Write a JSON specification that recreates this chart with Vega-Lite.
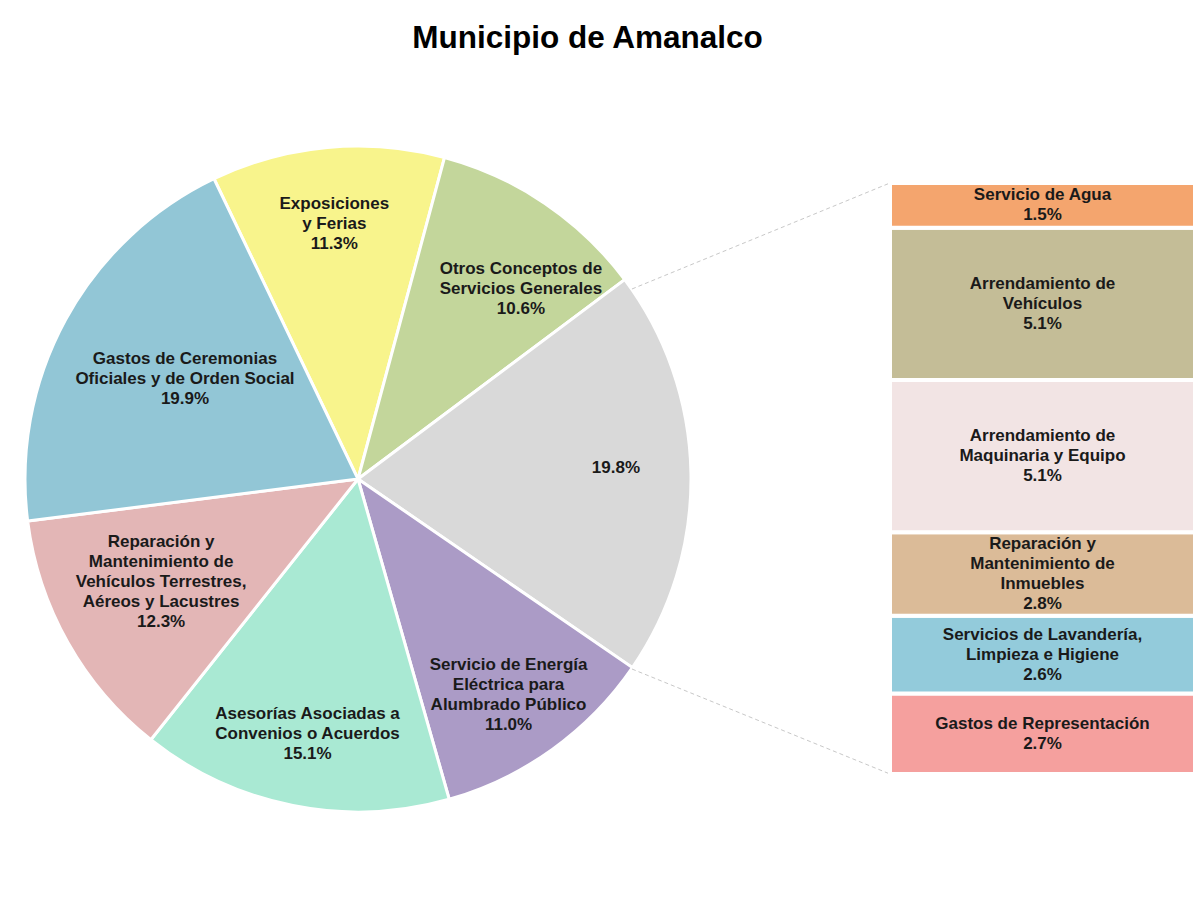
{
  "$schema": "https://vega.github.io/schema/vega-lite/v6.json",
  "background": "white",
  "padding": {"left": 0, "top": 22, "right": 5, "bottom": 5},
  "title": {"text": "Municipio de Amanalco", "fontSize": 31.5, "font": "Liberation Sans", "fontWeight": "bold", "color": "#000000", "offset": 17, "anchor": "middle", "dx": -11},
  "bounds": "flush",
  "spacing": 174,
  "config": {"view": {"stroke": null}, "text": {"fontSize": 17, "fontWeight": "bold", "font": "Liberation Sans", "lineBreak": "\n", "lineHeight": 20, "color": "#1a1a1a", "align": "center", "baseline": "middle"}},
  "resolve": {"scale": {"x": "independent", "y": "independent", "color": "independent", "theta": "independent"}},
  "hconcat": [
    {
      "width": 716,
      "height": 816,
      "data": {"values": [
        {"orden": 1, "concepto": "Exposiciones y Ferias", "porcentaje": 11.3, "etiqueta": "Exposiciones\ny Ferias\n11.3%"},
        {"orden": 2, "concepto": "Otros Conceptos de Servicios Generales", "porcentaje": 10.6, "etiqueta": "Otros Conceptos de\nServicios Generales\n10.6%"},
        {"orden": 3, "concepto": "Otros", "porcentaje": 19.8, "etiqueta": "19.8%"},
        {"orden": 4, "concepto": "Servicio de Energía Eléctrica para Alumbrado Público", "porcentaje": 11.0, "etiqueta": "Servicio de Energía\nEléctrica para\nAlumbrado  Público\n11.0%"},
        {"orden": 5, "concepto": "Asesorías Asociadas a Convenios o Acuerdos", "porcentaje": 15.1, "etiqueta": "Asesorías  Asociadas  a\nConvenios o Acuerdos\n15.1%"},
        {"orden": 6, "concepto": "Reparación y Mantenimiento de Vehículos Terrestres, Aéreos y Lacustres", "porcentaje": 12.3, "etiqueta": "Reparación y\nMantenimiento de\nVehículos  Terrestres,\nAéreos y Lacustres\n12.3%"},
        {"orden": 7, "concepto": "Gastos de Ceremonias Oficiales y de Orden Social", "porcentaje": 19.9, "etiqueta": "Gastos de Ceremonias\nOficiales y de Orden Social\n19.9%"}
      ]},
      "encoding": {
        "theta": {"field": "porcentaje", "type": "quantitative", "stack": true, "scale": {"range": [-0.447, 5.836]}},
        "order": {"field": "orden", "type": "quantitative"},
        "detail": {"field": "concepto", "type": "nominal"}
      },
      "layer": [
        {
          "mark": {"type": "arc", "outerRadius": 333, "stroke": "white", "strokeWidth": 3},
          "encoding": {
            "color": {"field": "concepto", "type": "nominal", "legend": null,
              "scale": {
                "domain": ["Exposiciones y Ferias", "Otros Conceptos de Servicios Generales", "Otros", "Servicio de Energía Eléctrica para Alumbrado Público", "Asesorías Asociadas a Convenios o Acuerdos", "Reparación y Mantenimiento de Vehículos Terrestres, Aéreos y Lacustres", "Gastos de Ceremonias Oficiales y de Orden Social"],
                "range": ["#f8f48c", "#c3d69b", "#d9d9d9", "#ab9bc6", "#a9e9d3", "#e3b6b6", "#92c6d6"]
              }}
          }
        },
        {
          "mark": {"type": "text", "radius": 258, "dy": -6},
          "encoding": {
            "text": {"condition": {"test": "length(split(datum.etiqueta, '\\n')) !== 1", "value": ""}, "field": "etiqueta"}
          }
        },
        {
          "mark": {"type": "text", "radius": 258, "dy": -18},
          "encoding": {
            "text": {"condition": {"test": "datum.concepto !== 'Exposiciones y Ferias' && datum.concepto !== 'Asesorías Asociadas a Convenios o Acuerdos'", "value": ""}, "field": "etiqueta"}
          }
        },
        {
          "mark": {"type": "text", "radius": 251, "dx": 22, "dy": -2},
          "encoding": {
            "text": {"condition": {"test": "datum.concepto !== 'Otros Conceptos de Servicios Generales'", "value": ""}, "field": "etiqueta"}
          }
        },
        {
          "mark": {"type": "text", "radius": 258, "dy": -24},
          "encoding": {
            "text": {"condition": {"test": "datum.concepto !== 'Servicio de Energía Eléctrica para Alumbrado Público'", "value": ""}, "field": "etiqueta"}
          }
        },
        {
          "mark": {"type": "text", "radius": 226, "dy": -48},
          "encoding": {
            "text": {"condition": {"test": "datum.concepto !== 'Reparación y Mantenimiento de Vehículos Terrestres, Aéreos y Lacustres'", "value": ""}, "field": "etiqueta"}
          }
        },
        {
          "mark": {"type": "text", "radius": 197, "dy": -26},
          "encoding": {
            "text": {"condition": {"test": "datum.concepto !== 'Gastos de Ceremonias Oficiales y de Orden Social'", "value": ""}, "field": "etiqueta"}
          }
        },
        {
          "data": {"values": [{}]},
          "mark": {"type": "rule", "color": "#c8c8c8", "strokeWidth": 1, "strokeDash": [4, 3]},
          "encoding": {
            "theta": null, "order": null, "detail": null,
            "x": {"datum": 0.8228, "type": "quantitative", "scale": {"domain": [-1.0751, 1.0751], "nice": false, "zero": false}, "axis": null},
            "y": {"datum": 0.5706, "type": "quantitative", "scale": {"domain": [-1.2252, 1.2252], "nice": false, "zero": false}, "axis": null},
            "x2": {"datum": 1.5976},
            "y2": {"datum": 0.8889}
          }
        },
        {
          "data": {"values": [{}]},
          "mark": {"type": "rule", "color": "#c8c8c8", "strokeWidth": 1, "strokeDash": [4, 3]},
          "encoding": {
            "theta": null, "order": null, "detail": null,
            "x": {"datum": 0.8228, "type": "quantitative"},
            "y": {"datum": -0.5706, "type": "quantitative"},
            "x2": {"datum": 1.5976},
            "y2": {"datum": -0.8859}
          }
        }
      ]
    },
    {
      "width": 305,
      "height": 816,
      "data": {"values": [
        {"orden": 1, "grupo": "Otros", "concepto": "Gastos de Representación", "porcentaje": 2.7, "etiqueta": "Gastos de Representación\n2.7%"},
        {"orden": 2, "grupo": "Otros", "concepto": "Servicios de Lavandería, Limpieza e Higiene", "porcentaje": 2.6, "etiqueta": "Servicios de Lavandería,\nLimpieza e Higiene\n2.6%"},
        {"orden": 3, "grupo": "Otros", "concepto": "Reparación y Mantenimiento de Inmuebles", "porcentaje": 2.8, "etiqueta": "Reparación y\nMantenimiento de\nInmuebles\n2.8%"},
        {"orden": 4, "grupo": "Otros", "concepto": "Arrendamiento de Maquinaria y Equipo", "porcentaje": 5.1, "etiqueta": "Arrendamiento  de\nMaquinaria y Equipo\n5.1%"},
        {"orden": 5, "grupo": "Otros", "concepto": "Arrendamiento de Vehículos", "porcentaje": 5.1, "etiqueta": "Arrendamiento  de\nVehículos\n5.1%"},
        {"orden": 6, "grupo": "Otros", "concepto": "Servicio de Agua", "porcentaje": 1.5, "etiqueta": "Servicio de Agua\n1.5%"}
      ]},
      "encoding": {
        "x": {"field": "grupo", "type": "nominal", "axis": null, "scale": {"paddingInner": 0, "paddingOuter": 0}},
        "y": {"field": "porcentaje", "type": "quantitative", "stack": "zero", "axis": null, "scale": {"domain": [-3.786, 23.553], "nice": false, "zero": false}},
        "order": {"field": "orden", "type": "quantitative"},
        "detail": {"field": "concepto", "type": "nominal"}
      },
      "layer": [
        {
          "mark": {"type": "bar", "stroke": "white", "strokeWidth": 4},
          "encoding": {
            "color": {"field": "concepto", "type": "nominal", "legend": null,
              "scale": {
                "domain": ["Gastos de Representación", "Servicios de Lavandería, Limpieza e Higiene", "Reparación y Mantenimiento de Inmuebles", "Arrendamiento de Maquinaria y Equipo", "Arrendamiento de Vehículos", "Servicio de Agua"],
                "range": ["#f5a09e", "#93cbdb", "#dbbb98", "#f2e4e4", "#c4bd97", "#f4a56e"]
              }}
          }
        },
        {
          "mark": {"type": "text", "dy": -10},
          "encoding": {
            "y": {"field": "porcentaje", "type": "quantitative", "stack": "zero", "bandPosition": 0.5},
            "text": {"condition": {"test": "length(split(datum.etiqueta, '\\n')) !== 2", "value": ""}, "field": "etiqueta"}
          }
        },
        {
          "mark": {"type": "text", "dy": -20},
          "encoding": {
            "y": {"field": "porcentaje", "type": "quantitative", "stack": "zero", "bandPosition": 0.5},
            "text": {"condition": {"test": "length(split(datum.etiqueta, '\\n')) !== 3", "value": ""}, "field": "etiqueta"}
          }
        },
        {
          "mark": {"type": "text", "dy": -30},
          "encoding": {
            "y": {"field": "porcentaje", "type": "quantitative", "stack": "zero", "bandPosition": 0.5},
            "text": {"condition": {"test": "length(split(datum.etiqueta, '\\n')) !== 4", "value": ""}, "field": "etiqueta"}
          }
        }
      ]
    }
  ]
}
